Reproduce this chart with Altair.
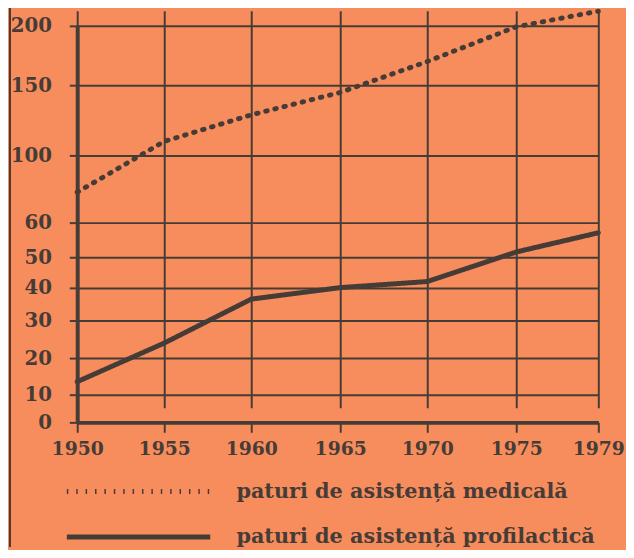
import altair as alt
import pandas as pd

# ---- data ----
years = [1950, 1955, 1960, 1965, 1970, 1975, 1979]
medicala = [78, 110, 129, 145, 170, 199, 212]
profilactica = [13.5, 24, 36.5, 40, 42, 51.5, 57]
series_names = ["paturi de asistență medicală", "paturi de asistență profilactică"]
y_ticks = [0, 10, 20, 30, 40, 50, 60, 100, 150, 200]
x_ticks = [1950, 1955, 1960, 1965, 1970, 1975, 1979]

rows = []
for name, vals in zip(series_names, [medicala, profilactica]):
    for yr, v in zip(years, vals):
        rows.append({"an": yr, "valoare": v, "serie": name})
df = pd.DataFrame(rows)

DARK = "#463C37"
BG = "#F78D5D"
FONT = "DejaVu Serif"

# hand-drawn, irregular axis spacing of the original (piecewise scales)
y_range = [416.3, 387.7, 351, 313, 279.7, 249, 213.7, 146, 75.3, 14.7]
x_range = [0, 88, 176, 266, 354, 444, 527]

lines = alt.Chart(df).mark_line(strokeWidth=5, strokeCap="round", color=DARK).encode(
    x=alt.X("an:Q",
            scale=alt.Scale(domain=x_ticks, range=x_range, nice=False, zero=False),
            axis=alt.Axis(values=x_ticks, format="d", title=None, grid=True,
                          gridColor=DARK, gridWidth=2, gridOpacity=1,
                          domainColor=DARK, domainWidth=4,
                          tickColor=DARK, tickWidth=2, tickSize=10,
                          labelFont=FONT, labelFontSize=19, labelFontWeight="bold",
                          labelColor=DARK, labelPadding=7,
                          labelFlush=False, labelOverlap=False)),
    y=alt.Y("valoare:Q",
            scale=alt.Scale(domain=y_ticks, range=y_range, nice=False, zero=False),
            axis=alt.Axis(values=y_ticks, title=None, grid=True,
                          gridColor=DARK, gridWidth=2, gridOpacity=1,
                          domainColor=DARK, domainWidth=4,
                          tickColor=DARK, tickWidth=2, tickSize=8,
                          labelFont=FONT, labelFontSize=20, labelFontWeight="bold",
                          labelColor=DARK, labelPadding=18, labelOverlap=False)),
    strokeDash=alt.StrokeDash("serie:N",
        scale=alt.Scale(domain=series_names, range=[[1.5, 8], [1, 0]]),
        legend=alt.Legend(title=None, orient="none", legendX=-13, legendY=476,
                          direction="vertical", symbolType="stroke",
                          symbolSize=145 * 145, symbolStrokeWidth=5,
                          symbolStrokeColor=DARK, clipHeight=20, rowPadding=25,
                          labelOffset=24, labelFont=FONT, labelFontSize=21,
                          labelFontWeight="bold", labelColor=DARK, labelLimit=0)),
    order="an:Q",
)

frame = alt.Chart(df).mark_rule(color=DARK, strokeWidth=1.5).encode(
    x=alt.value(-68), y=alt.value(-8), y2=alt.value(542)
)

chart = alt.layer(lines, frame).properties(
    width=527, height=416,
    autosize=alt.AutoSizeParams(type="none"),
    padding={"left": 70, "top": 0, "right": 28, "bottom": 126},
).configure(background=BG).configure_view(stroke=None)

chart.save("out.html", embed_options={"renderer": "svg", "actions": False})
